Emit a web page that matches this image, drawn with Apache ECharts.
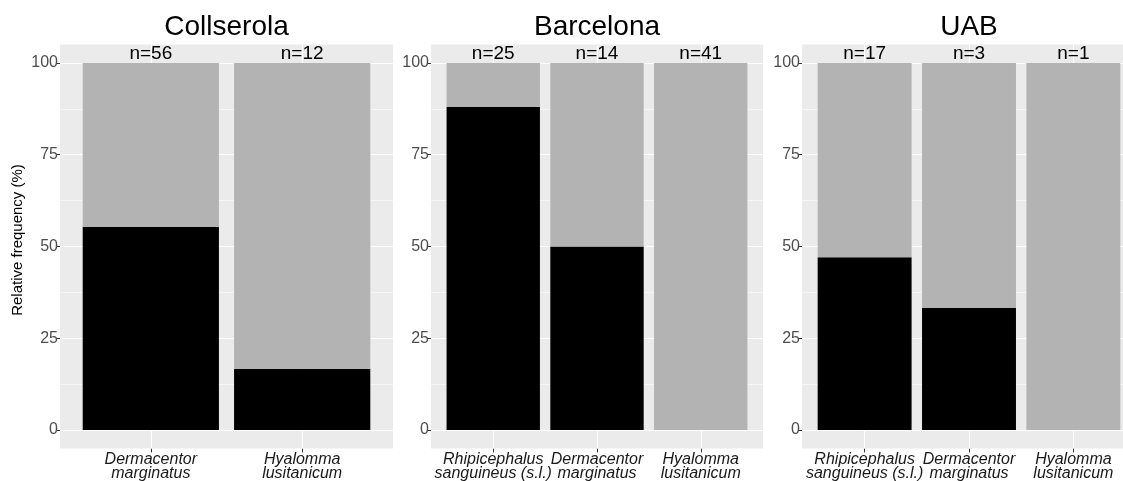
<!DOCTYPE html>
<html>
<head>
<meta charset="utf-8">
<script src="https://cdn.jsdelivr.net/npm/echarts@6/dist/echarts.min.js"></script>
<style>
  html, body { margin: 0; padding: 0; background: #ffffff; }
  #chart { width: 1123px; height: 481px; }
</style>
</head>
<body>
<div id="chart"></div>
<script>
// Facet titles
const sites = ['Collserola', 'Barcelona', 'UAB'];

// Tick species per site
const collserolaSpecies = ['Dermacentor\nmarginatus', 'Hyalomma\nlusitanicum'];
const barcelonaSpecies = ['Rhipicephalus\nsanguineus (s.l.)', 'Dermacentor\nmarginatus', 'Hyalomma\nlusitanicum'];
const uabSpecies = ['Rhipicephalus\nsanguineus (s.l.)', 'Dermacentor\nmarginatus', 'Hyalomma\nlusitanicum'];

// Relative frequency (%) of positive (black) and negative (grey) ticks
const collserolaPositive = [55.4, 16.7];
const collserolaNegative = [44.6, 83.3];
const barcelonaPositive = [88, 50, 0];
const barcelonaNegative = [12, 50, 100];
const uabPositive = [47.1, 33.3, 0];
const uabNegative = [52.9, 66.7, 100];

// Sample sizes shown above each bar
const collserolaN = [56, 12];
const barcelonaN = [25, 14, 41];
const uabN = [17, 3, 1];

// Y axis ticks
const yTicks = [0, 25, 50, 75, 100];
const yMinorTicks = [12.5, 37.5, 62.5, 87.5];

const facets = [
  { species: collserolaSpecies, pos: collserolaPositive, neg: collserolaNegative, n: collserolaN },
  { species: barcelonaSpecies, pos: barcelonaPositive, neg: barcelonaNegative, n: barcelonaN },
  { species: uabSpecies, pos: uabPositive, neg: uabNegative, n: uabN }
];

// Panel placement (left edge and width of each facet)
const panelLeft = [60, 431, 802];
const panelWidth = [333, 332, 334];
const panelTop = 44.6;
const panelHeight = 403.8;

const FONT = '"Liberation Sans", Arial, Helvetica, sans-serif';

const grids = [], xAxes = [], yAxes = [], series = [], graphics = [];

// Species names sit close together, so alternate names go on two
// overlapping bottom axes; each axis then never has touching labels.
function speciesAxis(gridIndex, k, names, values) {
  return {
    type: 'value', gridIndex: gridIndex, position: 'bottom', offset: 0,
    min: 0.4, max: k + 0.6,
    axisLine: { show: false, onZero: false },
    splitLine: { show: false },
    axisTick: { show: true, customValues: values, length: 4, lineStyle: { color: '#333333', width: 1 } },
    axisLabel: {
      customValues: values,
      showMinLabel: true, showMaxLabel: true,
      formatter: v => names[Math.round(v) - 1],
      fontFamily: FONT, fontStyle: 'italic', fontSize: 16, lineHeight: 14,
      color: '#1a1a1a', margin: 4
    }
  };
}

facets.forEach((f, i) => {
  const k = f.species.length;
  const positions = f.species.map((_, j) => j + 1);

  grids.push({
    left: panelLeft[i], top: panelTop, width: panelWidth[i], height: panelHeight,
    show: true, backgroundColor: '#EBEBEB', borderWidth: 0,
    containLabel: false, outerBoundsMode: 'none'
  });

  const xIndex = xAxes.length;
  xAxes.push(speciesAxis(i, k, f.species, positions.filter(p => p % 2 === 1)));
  xAxes.push(speciesAxis(i, k, f.species, positions.filter(p => p % 2 === 0)));

  yAxes.push({
    type: 'value', gridIndex: i, min: -5, max: 105,
    axisLine: { show: false, onZero: false },
    splitLine: { show: false },
    axisTick: { show: true, customValues: yTicks, length: 3, lineStyle: { color: '#333333', width: 1 } },
    axisLabel: { customValues: yTicks, showMinLabel: true, showMaxLabel: true,
                 fontFamily: FONT, fontSize: 16, color: '#4d4d4d', margin: 2 }
  });

  const gridLines = [
    ...yTicks.map(v => ({ yAxis: v, lineStyle: { width: 1.1 } })),
    ...yMinorTicks.map(v => ({ yAxis: v, lineStyle: { width: 0.55 } })),
    ...positions.map(v => ({ xAxis: v, lineStyle: { width: 1.1 } }))
  ];

  // Value first, position second, so the stack is applied to the percentage
  const stackEncode = { x: 1, y: 0 };

  series.push({
    type: 'bar', name: 'positive', xAxisIndex: xIndex, yAxisIndex: i, stack: 's' + i,
    barWidth: '90%',
    encode: stackEncode,
    data: f.pos.map((v, j) => [v, positions[j]]),
    itemStyle: { color: '#000000' },
    markLine: {
      silent: true, symbol: 'none', z: 1, animation: false,
      label: { show: false },
      lineStyle: { color: '#ffffff', type: 'solid' },
      emphasis: { disabled: true },
      data: gridLines
    }
  });

  series.push({
    type: 'bar', name: 'negative', xAxisIndex: xIndex, yAxisIndex: i, stack: 's' + i,
    barWidth: '90%',
    encode: stackEncode,
    data: f.neg.map((v, j) => [v, positions[j]]),
    itemStyle: { color: '#B3B3B3' },
    label: {
      show: true, position: 'top', distance: 0,
      formatter: p => 'n=' + f.n[p.dataIndex],
      fontFamily: FONT, fontSize: 19, color: '#000000'
    }
  });

  graphics.push({
    type: 'text', x: panelLeft[i] + panelWidth[i] / 2, y: 27,
    style: {
      text: sites[i], fontFamily: FONT, fontSize: 28, fill: '#000000',
      textAlign: 'center', textVerticalAlign: 'middle'
    }
  });
});

graphics.push({
  type: 'text', x: 18, y: 240, rotation: Math.PI / 2,
  style: {
    text: 'Relative frequency (%)', fontFamily: FONT, fontSize: 15, fill: '#000000',
    textAlign: 'center', textVerticalAlign: 'middle'
  }
});

const chart = echarts.init(document.getElementById('chart'), null, { renderer: 'canvas' });
chart.setOption({
  animation: false,
  grid: grids,
  xAxis: xAxes,
  yAxis: yAxes,
  series: series,
  graphic: graphics
});
</script>
</body>
</html>
